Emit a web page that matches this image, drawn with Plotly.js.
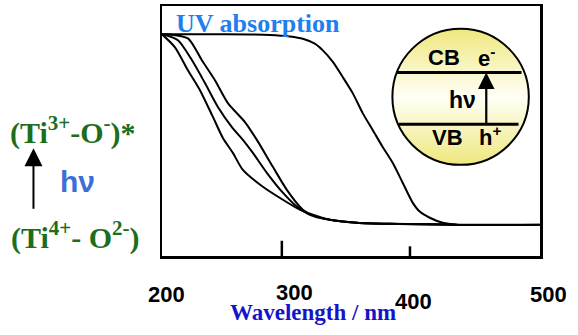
<!DOCTYPE html>
<html><head><meta charset="utf-8">
<script src="https://cdn.plot.ly/plotly-3.0.1.min.js"></script>
<style>html,body{margin:0;padding:0;background:#fff;} #chart{width:578px;height:335px;}</style>
</head><body><div id="chart"></div>
<script>
// ---- data (wavelength in nm, absorbance in arbitrary units) ----
const waveA = [206.5, 216.6, 226.7, 236.1, 246.2, 254.0, 261.8, 269.6, 285.2, 300.8, 314.0, 324.2, 337.4, 358.5, 384.2, 436.4, 501.5];
const absA  = [0.995, 0.927, 0.807, 0.703, 0.563, 0.453, 0.375, 0.286, 0.198, 0.130, 0.078, 0.052, 0.026, 0.010, 0.004, 0.0, 0.0];
const waveB = [206.5, 218.9, 229.9, 240.0, 250.1, 261.0, 269.6, 277.4, 288.3, 300.8, 311.7, 320.3, 326.5, 337.4, 358.5, 384.2, 436.4];
const absB  = [0.995, 0.964, 0.859, 0.740, 0.615, 0.510, 0.443, 0.375, 0.271, 0.167, 0.094, 0.057, 0.042, 0.026, 0.010, 0.004, 0.0];
const waveC = [206.5, 211.1, 226.7, 237.6, 247.8, 257.9, 271.2, 280.5, 293.0, 303.9, 316.4, 325.7, 337.4, 358.5, 384.2, 436.4];
const absC  = [0.995, 0.995, 0.974, 0.859, 0.755, 0.635, 0.536, 0.443, 0.302, 0.182, 0.078, 0.042, 0.026, 0.010, 0.004, 0.0];
const waveD = [206.5, 251.7, 290.6, 306.2, 316.4, 325.7, 332.0, 339.8, 347.5, 355.3, 363.1, 370.9, 378.7, 386.5, 394.3, 402.1, 407.6, 415.4, 425.5, 436.4, 501.5];
const absD  = [0.995, 0.995, 0.992, 0.984, 0.972, 0.946, 0.911, 0.851, 0.772, 0.6875, 0.583, 0.495, 0.406, 0.323, 0.219, 0.115, 0.068, 0.036, 0.010, 0.0, 0.0];
const tickLabels = [200, 300, 400, 500];
const tickMarks = [300, 400];

// ---- layout geometry ----
const L = 162, T = 5.5, W = 378.5, H = 251; // plot area in px
const B = T + H;
const xRange = [206.47, 501.48];
const yRange = [-0.164, 1.143];
const px = x => (x - L) / W;          // pixel -> paper
const py = y => (B - y) / H;
const vx = v => (v - xRange[0]) / (xRange[1] - xRange[0]); // data -> paper

const serif = 'Liberation Serif, Times New Roman, serif';
const sans = 'Liberation Sans, Arial, sans-serif';

const line = {color: '#000', width: 2, shape: 'spline', smoothing: 0.7};
const traces = [
  {x: waveA, y: absA, mode: 'lines', line: line, hoverinfo: 'skip'},
  {x: waveB, y: absB, mode: 'lines', line: line, hoverinfo: 'skip'},
  {x: waveC, y: absC, mode: 'lines', line: line, hoverinfo: 'skip'},
  {x: waveD, y: absD, mode: 'lines', line: line, hoverinfo: 'skip'}
];

const tickLabelShift = [[13, -38], [13, -36], [4, -45], [10, -38]];
const tickLen = [15.3, 9.7];

const annotations = [];
tickLabels.forEach((v, i) => annotations.push({
  xref: 'paper', yref: 'paper', x: vx(v), y: 0, xanchor: 'center', yanchor: 'middle',
  xshift: tickLabelShift[i][0], yshift: tickLabelShift[i][1],
  text: '<b>' + v + '</b>', showarrow: false, font: {family: sans, size: 22, color: '#000'}
}));

function txt(text, x, y, font) {
  annotations.push({xref: 'paper', yref: 'paper', x: px(x), y: py(y), xanchor: 'center', yanchor: 'middle',
    text: text, showarrow: false, font: font});
}
txt('<b>UV absorption</b>', 258.5, 23, {family: serif, size: 26, color: '#1f7fef'});
txt('<b>Wavelength / nm</b>', 313, 313, {family: serif, size: 23, color: '#1414c8'});
txt('<b>(Ti<sup>3+</sup>-O<sup>-</sup>)*</b>', 72.5, 130, {family: serif, size: 30, color: '#1b6e1b'});
txt('<b>(Ti<sup>4+</sup>- O<sup>2-</sup>)</b>', 75.5, 236, {family: serif, size: 30, color: '#1b6e1b'});
txt('<b>hν</b>', 77, 182, {family: sans, size: 30, color: '#3c6fd6'});
txt('<b>CB</b>', 444, 57.5, {family: sans, size: 22, color: '#000'});
txt('<b>e<sup>-</sup></b>', 487, 57, {family: sans, size: 22, color: '#000'});
txt('<b>hν</b>', 463, 100, {family: sans, size: 23, color: '#000'});
txt('<b>VB</b>', 447.5, 137.5, {family: sans, size: 22, color: '#000'});
txt('<b>h<sup>+</sup></b>', 490, 136, {family: sans, size: 22, color: '#000'});

// arrows
annotations.push({xref: 'paper', yref: 'paper', x: px(33.3), y: py(148.3), ax: 0, ay: 62, axref: 'pixel', ayref: 'pixel',
  text: '', showarrow: true, arrowhead: 2, arrowsize: 1.8, arrowwidth: 2, arrowcolor: '#000', standoff: 0});
annotations.push({xref: 'paper', yref: 'paper', x: px(486.7), y: py(72.3), ax: 0, ay: 52, axref: 'pixel', ayref: 'pixel',
  text: '', showarrow: true, arrowhead: 2, arrowsize: 1.5, arrowwidth: 2.2, arrowcolor: '#000', standoff: 0});

const shapes = [];
tickMarks.forEach((v, i) => shapes.push({type: 'line', xref: 'x', yref: 'paper', x0: v, x1: v, y0: 0, y1: tickLen[i] / H,
  line: {color: '#000', width: 2.5}}));
// band diagram circle
const cx0 = 392.7, cx1 = 529.3, cy0 = 28.3, cy1 = 165;
shapes.push({type: 'circle', xref: 'paper', yref: 'paper', x0: px(cx0), x1: px(cx1), y0: py(cy1), y1: py(cy0),
  line: {color: '#000', width: 2}, fillcolor: 'rgba(0,0,0,0)', layer: 'above'});
shapes.push({type: 'line', xref: 'paper', yref: 'paper', x0: px(397), x1: px(522), y0: py(72.3), y1: py(72.3), line: {color: '#000', width: 3}, layer: 'above'});
shapes.push({type: 'line', xref: 'paper', yref: 'paper', x0: px(399), x1: px(519), y0: py(124.3), y1: py(124.3), line: {color: '#000', width: 3}, layer: 'above'});

const svg = "<svg xmlns='http://www.w3.org/2000/svg' width='200' height='200' viewBox='0 0 200 200' preserveAspectRatio='none'>" +
  "<defs><linearGradient id='g' x1='0' y1='0' x2='0' y2='1'>" +
  "<stop offset='0' stop-color='#efe77e'/><stop offset='0.5' stop-color='#fffff6'/><stop offset='1' stop-color='#efe77e'/>" +
  "</linearGradient></defs><ellipse cx='100' cy='100' rx='100' ry='100' fill='url(#g)'/></svg>";

const layout = {
  width: 578, height: 335,
  margin: {l: L, r: 578 - L - W, t: T, b: 335 - B, pad: 0},
  paper_bgcolor: '#fff', plot_bgcolor: '#fff',
  showlegend: false,
  xaxis: {range: xRange, showgrid: false, zeroline: false, showticklabels: false, ticks: '',
    showline: true, mirror: true, linecolor: '#000', linewidth: 2.5, fixedrange: true},
  yaxis: {range: yRange, showgrid: false, zeroline: false, showticklabels: false, ticks: '',
    showline: true, mirror: true, linecolor: '#000', linewidth: 2.5, fixedrange: true},
  annotations: annotations,
  shapes: shapes,
  images: [{source: 'data:image/svg+xml;charset=utf-8,' + encodeURIComponent(svg),
    xref: 'paper', yref: 'paper', x: px(cx0), y: py(cy0), sizex: (cx1 - cx0) / W, sizey: (cy1 - cy0) / H,
    xanchor: 'left', yanchor: 'top', sizing: 'stretch', layer: 'above'}]
};

Plotly.newPlot('chart', traces, layout, {staticPlot: true, displayModeBar: false});
</script>
</body></html>
